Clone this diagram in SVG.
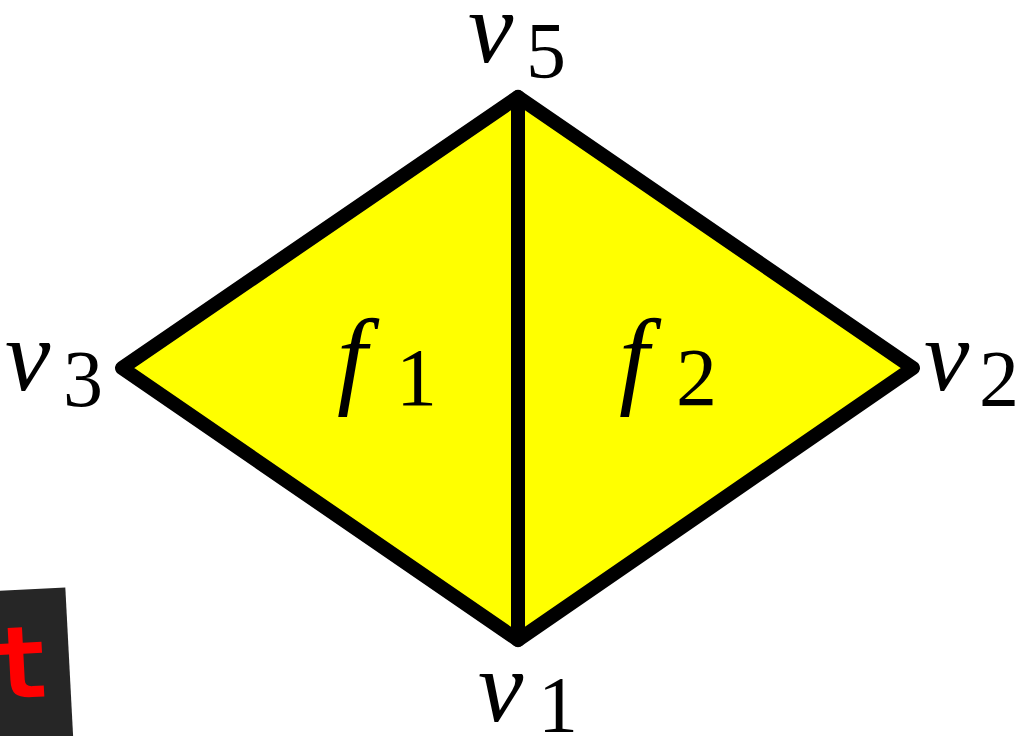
<svg xmlns="http://www.w3.org/2000/svg" width="1023" height="736" viewBox="0 0 1023 736">
<style>
.m{font-family:"Liberation Serif","DejaVu Serif",serif;font-style:italic;fill:#000}
.d{font-family:"Liberation Serif","DejaVu Serif",serif;fill:#000}
.face{fill:#ffff00;stroke:none}
.edge{stroke:#000;stroke-width:14;stroke-linecap:round;stroke-linejoin:round;fill:none}
</style>
<rect width="1023" height="736" fill="#fff"/>
<g id="f1"><polygon class="face" points="518,97 122,368 518,640"/><text class="m" x="337" y="394" font-size="108">f</text><text class="d" x="396" y="405" font-size="82">1</text></g>
<g id="f2"><polygon class="face" points="518,97 913,368 518,640"/><text class="m" x="619" y="394" font-size="108">f</text><text class="d" x="676" y="405" font-size="82">2</text></g>
<g id="connectors">
<path class="edge" d="M518,97 L122,368 L518,640 L913,368 Z"/>
<path class="edge" d="M518,97 L518,640"/>
</g>
<g id="v5"><text class="m" x="468" y="62" font-size="102">v</text><text class="d" x="526" y="78" font-size="80">5</text></g>
<g id="v3"><text class="m" x="5" y="390" font-size="102">v</text><text class="d" x="63" y="406" font-size="80">3</text></g>
<g id="v2"><text class="m" x="924" y="390" font-size="102">v</text><text class="d" x="979" y="406" font-size="80">2</text></g>
<g id="v1"><text class="m" x="478" y="721" font-size="102">v</text><text class="d" x="538" y="732" font-size="80">1</text></g>
<g id="badge" transform="rotate(-3 0 736)">
<rect x="-40" y="591" width="113" height="165" fill="#262626"/>
<text x="24" y="699" font-family="DejaVu Sans Mono" font-weight="bold" font-size="100" fill="#ff0000" text-anchor="middle">t</text>
</g>
</svg>
